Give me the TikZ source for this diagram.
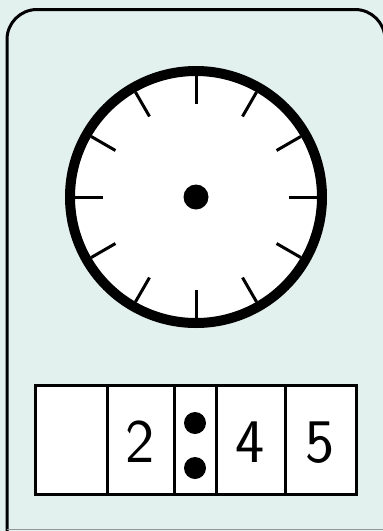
\documentclass[tikz,border=0pt]{standalone}
\usetikzlibrary{calc}
\definecolor{cardbg}{RGB}{227,241,238}
\definecolor{edgegray}{RGB}{150,150,150}
\begin{document}
\begin{tikzpicture}[x=1pt,y=-1pt,
  cardline/.style={line width=3pt,black},
  tick/.style={line width=3pt,black},
  cell/.style={line width=3pt,black},
  digit/.style={inner sep=0pt,anchor=base,font=\sffamily\fontsize{62}{62}\selectfont},
  dotmark/.style={fill=black}]
\useasboundingbox (0,0) rectangle (383,531);
% card
\fill[cardbg] (0,0) rectangle (383,531);
\draw[cardline,rounded corners=30pt,fill=cardbg] (7,540) -- (7,9.5) -- (385,9.5) -- (385,540);
\draw[edgegray,line width=1.5pt] (7,529.5) -- (383,529.5);
% clock
\coordinate (c) at (196,197);
\fill[white] (c) circle[radius=126];
\draw[line width=10pt] (c) circle[radius=126];
\foreach \a in {0,30,...,330}{
  \draw[tick] ($(c)+(\a:93)$) -- ($(c)+(\a:121)$);
}
\fill (c) circle[radius=12.5];
% display
\draw[cell,fill=white] (35,385) rectangle (356,494);
\foreach \x in {107,174,216,285}{
  \draw[cell] (\x,385) -- (\x,494);
}
\node[digit] (d2) at (140.5,462) {2};
\node[digit] (d4) at (250.5,462) {4};
\node[digit] (d5) at (320.5,462) {5};
\fill[dotmark] (195,423) circle[radius=11];
\fill[dotmark] (195,468) circle[radius=11];
\end{tikzpicture}
\end{document}
